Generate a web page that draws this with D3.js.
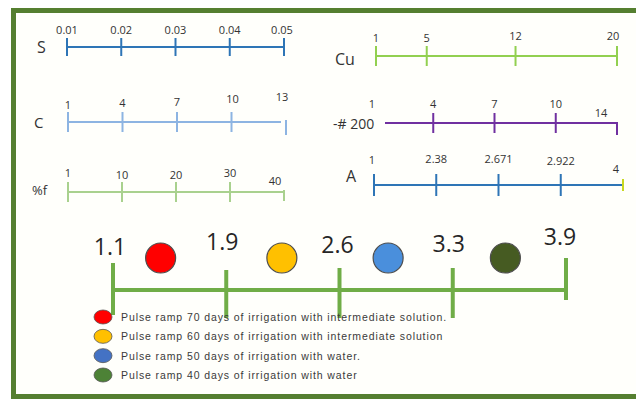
<!DOCTYPE html>
<html><head><meta charset="utf-8">
<script src="https://cdn.jsdelivr.net/npm/d3@7"></script>
<style>
html,body{margin:0;padding:0;background:#fff;}
svg{display:block;}
</style></head>
<body>
<script>
// ---- data ----
const sTicks = ["0.01","0.02","0.03","0.04","0.05"];
const cTicks = ["1","4","7","10","13"];
const fTicks = ["1","10","20","30","40"];
const cuTicks = [1,5,12,20];
const n200Ticks = ["1","4","7","10","14"];
const aTicks = ["1","2.38","2.671","2.922","4"];
const mainTicks = ["1.1","1.9","2.6","3.3","3.9"];
const classColors = ["#ff0000","#ffc000","#4a8fdc","#465b22"];
const legendColors = ["#ff0000","#ffc000","#4472c4","#4d8236"];
const legendLabels = [
  "Pulse ramp 70 days of irrigation with intermediate solution.",
  "Pulse ramp 60 days of irrigation with intermediate solution",
  "Pulse ramp 50 days of irrigation with water.",
  "Pulse ramp 40 days of irrigation with water"
];

const W = 636, H = 399;
const FONT = "'Open Sans','Noto Sans',sans-serif";
const svg = d3.select("body").append("svg").attr("width", W).attr("height", H);
svg.append("rect").attr("width", W).attr("height", H).attr("fill", "#fff");
svg.append("rect").attr("x", 16).attr("y", 13).attr("width", W - 16).attr("height", 381).attr("fill", "#fffffb");

// frame
const frame = "#557f30";
svg.append("rect").attr("x", 11).attr("y", 8).attr("width", 5).attr("height", 391).attr("fill", frame);
svg.append("rect").attr("x", 11).attr("y", 8).attr("width", W - 11).attr("height", 5).attr("fill", frame);
svg.append("rect").attr("x", 11).attr("y", 394).attr("width", W - 11).attr("height", 5).attr("fill", frame);

function drawScale(cfg) {
  const g = svg.append("g");
  const x = cfg.scale;
  const vals = cfg.ticks;
  const x0 = x(vals[0]) + (cfg.lineStartOffset || 0);
  const x1 = x(vals[vals.length - 1]) + (cfg.lineEndOffset || 0);
  g.append("line").attr("x1", x0).attr("x2", x1).attr("y1", cfg.y).attr("y2", cfg.y)
    .attr("stroke", cfg.color).attr("stroke-width", cfg.width || 2);
  vals.forEach((v, i) => {
    const t = (cfg.tickOverride && cfg.tickOverride[i]) || {};
    if (t.skip) return;
    g.append("line")
      .attr("x1", x(v)).attr("x2", x(v))
      .attr("y1", cfg.y - (t.up !== undefined ? t.up : cfg.half))
      .attr("y2", cfg.y + (t.down !== undefined ? t.down : cfg.half))
      .attr("stroke", t.color || cfg.color).attr("stroke-width", 2);
  });
  g.selectAll("text.tl").data(vals).join("text")
    .attr("class", "tl")
    .attr("x", (d, i) => x(d) + ((cfg.labelDx && cfg.labelDx[i]) || 0))
    .attr("y", (d, i) => cfg.labelY + ((cfg.labelDy && cfg.labelDy[i]) || 0))
    .attr("text-anchor", "middle")
    .style("font-family", FONT)
    .attr("font-size", 11)
    .attr("fill", "#333")
    .text(d => d);
  g.append("text").attr("x", cfg.nameX).attr("y", cfg.nameY)
    .style("font-family", FONT)
    .attr("font-size", cfg.nameSize).attr("fill", "#333").text(cfg.name);
}

// S
drawScale({
  name: "S", nameX: 37, nameY: 53, nameSize: 16,
  ticks: sTicks, scale: d3.scalePoint().domain(sTicks).range([67, 284]),
  y: 47, half: 9, color: "#2e75b6", labelY: 34,
  labelDx: [0, 0, 0, 0, -2]
});
// C
drawScale({
  name: "C", nameX: 34, nameY: 128, nameSize: 15,
  ticks: cTicks, scale: d3.scalePoint().domain(cTicks).range([68, 286]),
  y: 122, half: 10, color: "#8db4e2", labelY: 107,
  labelDy: [2, 0, -1, -4, -6], labelDx: [0, 0, 0, 1, -4],
  lineEndOffset: -5, tickOverride: {4: {up: 2, down: 13}}
});
// %f
drawScale({
  name: "%f", nameX: 32, nameY: 195, nameSize: 13,
  ticks: fTicks, scale: d3.scalePoint().domain(fTicks).range([68, 284]),
  y: 192, half: 10, color: "#a9d18e", labelY: 178,
  labelDy: [-1, 1, 1, -1, 7], labelDx: [0, 0, 0, 0, -9],
  tickOverride: {4: {up: 2, down: 9}}
});
// Cu
drawScale({
  name: "Cu", nameX: 335, nameY: 65, nameSize: 16,
  ticks: cuTicks, scale: d3.scaleLinear().domain([1, 20]).range([376, 617]),
  y: 56, half: 10, color: "#92d050", labelY: 42,
  labelDy: [0, 0, -2, -2], labelDx: [0, 0, 0, -4]
});
// -# 200
drawScale({
  name: "-# 200", nameX: 333, nameY: 129, nameSize: 14,
  ticks: n200Ticks, scale: d3.scalePoint().domain(n200Ticks).range([372, 617]),
  y: 123, half: 10, color: "#7030a0", labelY: 108,
  lineStartOffset: 13, labelDy: [0, 0, 0, 0, 9], labelDx: [0, 0, 0, 0, -16],
  tickOverride: {0: {skip: true}, 4: {up: 1, down: 12}}
});
// A
drawScale({
  name: "A", nameX: 346, nameY: 182, nameSize: 16,
  ticks: aTicks, scale: d3.scalePoint().domain(aTicks).range([374, 623]),
  y: 185, half: 11, color: "#2e75b6", labelY: 163,
  labelDy: [1, 0, 0, 2, 10], labelDx: [-2, 0, 0, 0, -7],
  tickOverride: {4: {color: "#c8d820", up: 6, down: 6}}
});

// main scale
const xm = d3.scalePoint().domain(mainTicks).range([113, 566]);
const mg = svg.append("g");
const mainY = 290;
mg.append("line").attr("x1", xm(mainTicks[0])).attr("x2", xm(mainTicks[4]))
  .attr("y1", mainY).attr("y2", mainY).attr("stroke", "#70ad47").attr("stroke-width", 4);
const mainTickUp = [27, 20, 22, 22, 32];
const mainTickDown = [25, 28, 28, 28, 10];
mainTicks.forEach((v, i) => {
  mg.append("line").attr("x1", xm(v)).attr("x2", xm(v))
    .attr("y1", mainY - mainTickUp[i]).attr("y2", mainY + mainTickDown[i])
    .attr("stroke", "#70ad47").attr("stroke-width", 4);
});
const mainLabelY = [255, 250, 253, 252, 245];
mg.selectAll("text.ml").data(mainTicks).join("text").attr("class", "ml")
  .attr("x", (d, i) => xm(d) + [-3, -4, -2, -4, -6][i])
  .attr("y", (d, i) => mainLabelY[i])
  .attr("text-anchor", "middle")
  .style("font-family", FONT)
  .attr("font-size", 23).attr("fill", "#262626")
  .text(d => d);
// class circles between ticks
const mids = d3.pairs(mainTicks).map(([a, b]) => (xm(a) + xm(b)) / 2);
mg.selectAll("circle.cc").data(classColors).join("circle").attr("class", "cc")
  .attr("cx", (d, i) => mids[i] - [9, 1, 8, 4][i])
  .attr("cy", 258).attr("r", 15)
  .attr("fill", d => d).attr("stroke", "#4d4d4d").attr("stroke-width", 1.2);

// legend
const lg = svg.append("g");
const ly = d3.scalePoint().domain(legendLabels).range([317, 375]);
lg.selectAll("ellipse").data(legendLabels).join("ellipse")
  .attr("cx", 103).attr("cy", d => ly(d)).attr("rx", 9).attr("ry", 7)
  .attr("fill", (d, i) => legendColors[i]).attr("stroke", "#555").attr("stroke-width", 0.8);
lg.selectAll("text").data(legendLabels).join("text")
  .attr("x", 121).attr("y", d => ly(d) + 4)
  .style("font-family", "'Liberation Sans', Arial, sans-serif")
  .attr("font-size", 10.5).attr("letter-spacing", 0.9).attr("fill", "#3a3a3a")
  .text(d => d);
</script>
</body></html>
